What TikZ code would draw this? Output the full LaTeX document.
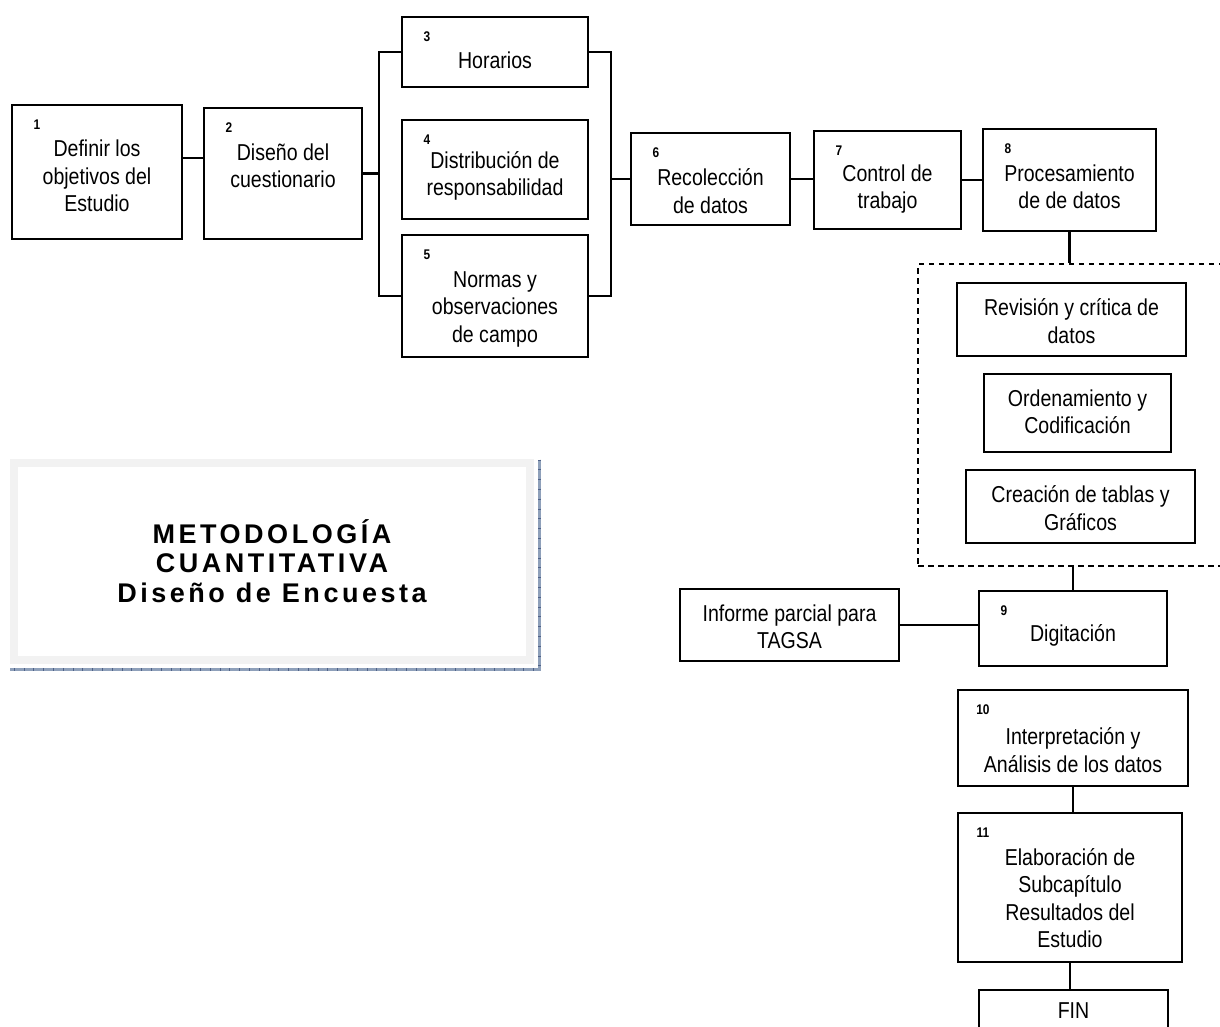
\documentclass[tikz,border=0pt]{standalone}
\usepackage{fontspec}
\setmainfont{Liberation Sans}
\newfontfamily\estrecha[FakeStretch=0.85]{Liberation Sans}
\newfontfamily\titular[LetterSpace=13]{Liberation Sans}
\usetikzlibrary{calc}

\definecolor{marco}{HTML}{F2F2F2}
\definecolor{sombra}{HTML}{8EA0BA}
\definecolor{sombraosc}{HTML}{4F6288}

\tikzset{
  paso/.style={draw, rectangle, line width=2.1pt, inner sep=0pt},
  texto/.style={font=\estrecha\fontsize{23}{27.5}\selectfont, align=center, inner sep=0pt},
  num/.style={font=\estrecha\bfseries\fontsize{14}{14}\selectfont, inner sep=0pt},
  union/.style={line width=2.2pt},
  grupo/.style={draw, rectangle, line width=1.8pt, dash pattern=on 5.5pt off 4.5pt},
  titulo/.style={draw=marco, fill=white, line width=8pt, inner sep=0pt,
    font=\titular\bfseries\fontsize{27}{29.5}\selectfont, align=center}
}

\begin{document}
\begin{tikzpicture}[x=1pt,y=-1pt]
\clip (0,0) rectangle (1220,1026);
\fill[white] (0,0) rectangle (1220,1026);

\foreach \nm/\xa/\ya/\xb/\yb/\ty/\k/\lbl in {
  b1/12/105/182/239/176/1/{Definir los\\objetivos del\\Estudio},
  b2/204/108/362/239/166/2/{Diseño del\\cuestionario},
  b3/402/17/588/87/60/3/{Horarios},
  b4/402/120/588/219/176/4/{Distribución de\\responsabilidad},
  b5/402/235/588/357/309/5/{Normas y\\observaciones\\de campo},
  b6/631/133/790/225/191/6/{Recolección\\de datos},
  b7/814/131/961/229/189/7/{Control de\\trabajo},
  b8/983/129/1156/231/187/8/{Procesamiento\\de de datos},
  b9/979/591/1167/666/635/9/{Digitación},
  b10/958/690/1188/786/750/10/{Interpretación y\\Análisis de los datos},
  b11/958/813/1182/962/898/11/{Elaboración de\\Subcapítulo\\Resultados del\\Estudio}} {
  \node[paso, minimum width={(\xb-\xa)*1pt}, minimum height={(\yb-\ya)*1pt}] (\nm) at ({(\xa+\xb)/2},{(\ya+\yb)/2}) {};
  \node[num] (n\k) at ($(\nm.north west)+(26,21)$) {\k};
  \node[texto] (t\k) at ({(\xa+\xb)/2},\ty) {\lbl};
}

\foreach \nm/\xa/\ya/\xb/\yb/\ty/\lbl in {
  rev/957/283/1186/356/321/{Revisión y crítica de\\datos},
  ord/984/374/1171/452/412/{Ordenamiento y\\Codificación},
  cre/966/470/1195/543/508/{Creación de tablas y\\Gráficos},
  inf/680/589/899/661/627/{Informe parcial para\\TAGSA},
  fin/979/990/1168/1046/1011/{FIN}} {
  \node[paso, minimum width={(\xb-\xa)*1pt}, minimum height={(\yb-\ya)*1pt}] (\nm) at ({(\xa+\xb)/2},{(\ya+\yb)/2}) {};
  \node[texto] (t\nm) at ({(\xa+\xb)/2},\ty) {\lbl};
}

\node[grupo, minimum width=322pt, minimum height=302pt] (proc) at (1079,415) {};

\coordinate (izq) at ([xshift=-22pt]b3.west);
\coordinate (der) at ([xshift=22pt]b3.east);
\draw[union] ([yshift=14pt]b1.east) -- ([yshift=14pt]b1.east -| b2.west);
\draw[union] (b2.east) -- (b2.east -| izq);
\draw[union] (b3.west) -- (izq) |- (b5.west);
\draw[union] (b3.east) -- (der) |- (b5.east);
\draw[union] (b6.west) -- (b6.west -| der);
\draw[union] (b6.east) -- (b6.east -| b7.west);
\draw[union] (b7.east) -- (b7.east -| b8.west);
\draw[union] (b8.south) -- (b8.south |- proc.north);
\draw[union] (b9.north) -- (b9.north |- proc.south);
\draw[union] (inf.east) -- (inf.east -| b9.west);
\draw[union] (b10.south) -- (b10.south |- b11.north);
\draw[union] (b11.south) -- (b11.south |- fin.north);

\node[titulo, minimum width=516pt, minimum height=197pt] (tit) at (272,561)
  {METODOLOGÍA\\CUANTITATIVA\\Diseño de Encuesta};
\draw[sombra, line width=3.5pt] ([shift={(5.5,1)}]tit.north east) -- ([shift={(5.5,6)}]tit.south east) -- ([shift={(0,6)}]tit.south west);
\draw[sombraosc, line width=3.5pt, dash pattern=on 0.8pt off 9pt] ([shift={(5.5,1)}]tit.north east) -- ([shift={(5.5,6)}]tit.south east) -- ([shift={(0,6)}]tit.south west);
\end{tikzpicture}
\end{document}
